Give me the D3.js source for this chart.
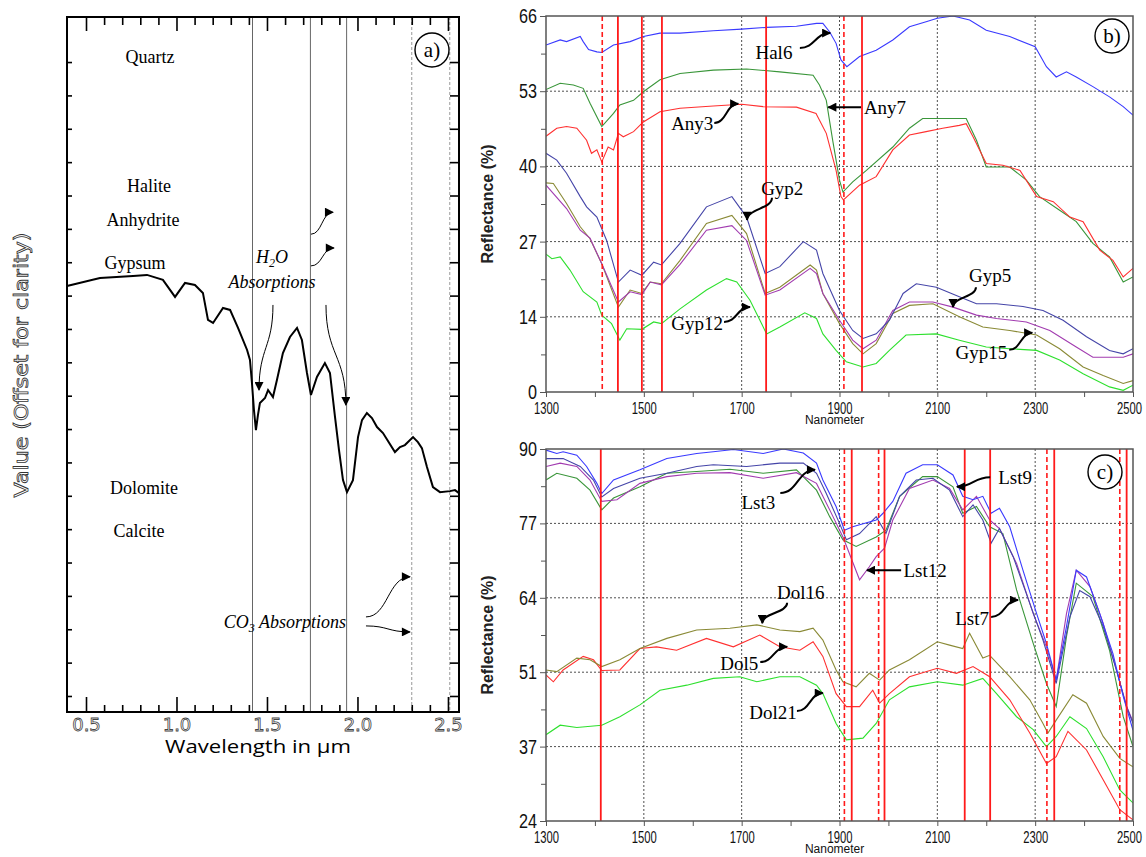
<!DOCTYPE html>
<html>
<head>
<meta charset="utf-8">
<script src="https://cdn.jsdelivr.net/npm/d3@7"></script>
<style>
body { margin: 0; background: #fff; }
svg { display: block; }
</style>
</head>
<body>
<svg id="chart" width="1146" height="857"></svg>
<script>
// ---------- panel a : reference spectrum (wavelength um, offset value)
const spectrumA = [[0.395,12.29],[0.577,12.53],[0.760,12.59],[0.837,12.62],[0.925,12.47],[0.992,11.96],[1.047,12.38],[1.102,12.32],[1.146,12.08],[1.174,11.27],[1.202,11.18],[1.257,11.63],[1.296,11.57],[1.340,11.03],[1.390,10.37],[1.406,10.07],[1.417,9.38],[1.428,8.57],[1.439,7.97],[1.450,8.42],[1.461,8.78],[1.489,8.93],[1.506,9.17],[1.533,8.96],[1.555,9.47],[1.588,10.28],[1.627,10.76],[1.666,11.03],[1.693,10.67],[1.721,9.68],[1.743,9.02],[1.776,9.56],[1.820,9.98],[1.848,9.68],[1.876,8.36],[1.898,7.37],[1.920,6.47],[1.942,6.11],[1.975,6.47],[2.003,7.76],[2.025,8.27],[2.052,8.48],[2.080,8.33],[2.108,8.06],[2.141,7.88],[2.207,7.31],[2.235,7.46],[2.262,7.52],[2.307,7.76],[2.334,7.61],[2.356,7.43],[2.384,6.86],[2.417,6.26],[2.456,6.11],[2.511,6.14],[2.539,6.17],[2.561,6.08]];
const aMajorTicks = [0.5, 1.0, 1.5, 2.0, 2.5];
const aMinorTicks = [0.6,0.7,0.8,0.9,1.1,1.2,1.3,1.4,1.6,1.7,1.8,1.9,2.1,2.2,2.3,2.4];
const aSideTicks = d3.range(0, 20);
const aLinesSolid = [1.42, 1.74, 1.94];
const aLinesDashed = [2.30, 2.51];
const aMinerals = [["Quartz",0.854,19.15],["Halite",0.848,15.28],["Anhydrite",0.815,14.26],["Gypsum",0.771,12.98],["Dolomite",0.820,6.23],["Calcite",0.793,4.94]];
const aArrows = [
  {from:[1.533,11.72], to:[1.456,9.17], dir:"v"},
  {from:[1.826,11.72], to:[1.936,8.72], dir:"v"},
  {from:[1.743,13.84], to:[1.865,14.50], dir:"h"},
  {from:[1.743,12.89], to:[1.870,13.43], dir:"h"},
  {from:[2.047,2.37], to:[2.290,3.57], dir:"h"},
  {from:[2.047,2.10], to:[2.290,1.92], dir:"h"}
];

// ---------- panel b : evaporites (nm, reflectance %)
const hal6 = [[1300,60.9],[1329,61.8],[1342,61.5],[1370,62.4],[1376,61.5],[1387,60.1],[1404,59.7],[1414,59.6],[1438,60.9],[1472,61.5],[1499,62.4],[1533,63.0],[1574,63.0],[1642,63.4],[1700,63.7],[1751,64.0],[1812,64.2],[1853,64.7],[1866,64.7],[1880,63.2],[1893,61.2],[1903,58.3],[1915,57.1],[1941,58.9],[1975,60.0],[2009,61.8],[2043,64.1],[2077,65.0],[2100,65.6],[2132,66.0],[2166,65.3],[2200,63.5],[2248,62.4],[2300,60.6],[2323,57.1],[2343,55.3],[2364,56.2],[2384,55.3],[2418,53.6],[2452,51.8],[2480,50.1],[2500,48.6]];
const any7 = [[1300,53.1],[1329,54.2],[1356,53.9],[1376,53.3],[1390,50.7],[1414,46.6],[1438,48.9],[1451,50.4],[1479,51.2],[1499,52.7],[1533,54.8],[1574,55.9],[1642,56.5],[1710,56.7],[1778,56.2],[1846,55.6],[1859,53.9],[1873,51.2],[1886,44.2],[1900,37.2],[1907,35.1],[1927,36.9],[1955,38.9],[2009,43.0],[2043,46.3],[2070,48.0],[2100,48.0],[2159,48.0],[2180,44.2],[2200,39.5],[2248,39.5],[2282,37.2],[2309,34.3],[2350,31.9],[2384,29.9],[2418,26.1],[2452,23.7],[2480,19.3],[2500,20.2]];
const any3 = [[1300,44.9],[1322,46.3],[1342,46.6],[1363,46.3],[1383,44.2],[1393,41.9],[1404,42.5],[1414,40.4],[1427,43.0],[1438,42.5],[1448,45.4],[1458,44.8],[1479,45.7],[1499,47.4],[1533,49.2],[1574,49.8],[1642,50.2],[1700,50.5],[1744,50.1],[1812,50.0],[1852,48.9],[1873,45.4],[1893,38.9],[1903,34.3],[1908,33.7],[1941,36.3],[1975,37.8],[2009,42.5],[2043,45.1],[2077,45.7],[2111,46.3],[2145,46.8],[2159,47.1],[2173,44.8],[2200,40.1],[2234,39.8],[2269,38.9],[2303,34.3],[2337,33.4],[2371,30.7],[2398,29.9],[2432,24.9],[2459,23.1],[2480,20.2],[2500,21.7]];
const gyp2 = [[1300,41.9],[1322,40.7],[1342,38.4],[1370,34.3],[1383,32.5],[1404,30.7],[1424,26.6],[1448,19.3],[1472,21.4],[1496,20.5],[1520,22.8],[1536,22.3],[1574,26.1],[1628,32.5],[1680,34.3],[1710,30.7],[1748,20.8],[1778,22.0],[1826,26.4],[1853,24.9],[1866,20.8],[1900,14.3],[1927,10.8],[1948,9.4],[1975,10.2],[2002,12.6],[2030,17.3],[2057,19.0],[2098,18.4],[2145,16.7],[2180,15.5],[2221,15.5],[2275,15.0],[2316,14.3],[2357,12.6],[2405,9.7],[2452,7.3],[2480,6.7],[2500,7.6]];
const gyp15 = [[1300,36.7],[1315,36.6],[1342,33.1],[1370,29.0],[1390,26.9],[1414,22.5],[1448,14.9],[1472,17.9],[1496,17.3],[1513,19.3],[1536,19.0],[1574,23.1],[1628,29.6],[1680,31.0],[1710,27.8],[1748,17.3],[1778,18.4],[1840,22.3],[1853,21.4],[1866,17.3],[1900,12.0],[1927,8.5],[1948,6.7],[1975,8.5],[2009,13.8],[2043,15.2],[2091,15.5],[2145,13.2],[2193,11.4],[2248,10.8],[2303,10.0],[2350,7.6],[2398,4.4],[2439,2.9],[2480,1.5],[2500,2.0]];
const gyp5 = [[1300,36.3],[1342,32.2],[1370,28.4],[1390,27.0],[1414,22.5],[1448,15.8],[1472,17.6],[1496,17.1],[1513,19.3],[1536,18.8],[1574,22.4],[1628,28.4],[1680,29.2],[1710,26.6],[1748,17.0],[1778,17.9],[1840,21.7],[1853,20.8],[1866,17.3],[1900,12.6],[1927,9.1],[1948,7.6],[1975,9.1],[2009,14.3],[2043,15.8],[2091,15.8],[2132,14.9],[2180,13.5],[2221,12.9],[2282,12.3],[2330,10.8],[2384,7.9],[2418,6.1],[2480,6.1],[2500,6.7]];
const gyp12 = [[1300,24.2],[1312,23.4],[1329,23.7],[1349,21.4],[1376,17.6],[1404,15.8],[1414,13.5],[1434,12.0],[1451,9.1],[1465,11.1],[1496,11.0],[1520,12.3],[1536,12.0],[1574,14.6],[1628,17.9],[1669,19.9],[1690,19.3],[1717,16.1],[1751,10.2],[1778,11.4],[1829,13.9],[1853,12.9],[1866,10.2],[1893,7.3],[1914,5.3],[1948,4.4],[1975,5.0],[2002,7.3],[2036,10.0],[2098,10.2],[2145,9.1],[2200,7.9],[2248,7.6],[2303,7.3],[2350,5.6],[2398,3.2],[2452,0.9],[2480,0.3],[2500,1.2]];
const bYTickLabels = ["0","14","27","40","53","66"];
const bRedSolid = [1447, 1496, 1537, 1750, 1946];
const bRedDashed = [1415, 1909];
const bNotes = [
  {text:"Hal6", at:[1766,59.7], from:[1819,60.4], to:[1881,63.0], dir:"h"},
  {text:"Any7", at:[1993,50.0], from:[1944,50.0], to:[1877,50.0], dir:"s"},
  {text:"Any3", at:[1599,47.2], from:[1644,47.2], to:[1693,50.6], dir:"h"},
  {text:"Gyp2", at:[1783,35.8], from:[1762,34.1], to:[1711,30.2], dir:"v"},
  {text:"Gyp12", at:[1609,12.1], from:[1664,12.3], to:[1717,14.9], dir:"h"},
  {text:"Gyp5", at:[2208,20.5], from:[2179,18.4], to:[2132,14.9], dir:"v"},
  {text:"Gyp15", at:[2190,7.0], from:[2247,7.4], to:[2294,10.4], dir:"h"}
];

// ---------- panel c : carbonates
const lst9 = [[1300,89.8],[1322,89.2],[1335,89.5],[1363,88.9],[1383,86.9],[1404,83.9],[1414,82.1],[1438,84.5],[1492,86.3],[1547,88.3],[1608,89.2],[1642,89.5],[1683,89.9],[1744,89.2],[1785,90.0],[1826,89.3],[1853,87.5],[1866,84.5],[1893,79.8],[1910,75.6],[1927,76.2],[1975,77.4],[1989,78.6],[2009,80.7],[2036,85.7],[2070,87.2],[2100,87.2],[2132,85.4],[2152,81.6],[2173,81.0],[2193,81.6],[2210,78.6],[2227,79.5],[2248,76.2],[2275,68.5],[2303,60.8],[2323,55.5],[2343,49.0],[2364,58.5],[2384,68.5],[2405,67.3],[2432,60.8],[2459,53.7],[2480,46.1],[2500,40.1]];
const lst3 = [[1300,88.3],[1335,88.3],[1370,86.9],[1397,84.5],[1414,81.5],[1438,83.0],[1492,84.8],[1547,85.7],[1608,86.9],[1642,87.2],[1710,86.9],[1778,87.5],[1826,87.5],[1853,85.7],[1873,82.1],[1900,76.8],[1914,73.9],[1941,75.0],[1975,78.0],[1995,75.0],[2023,81.6],[2057,84.5],[2091,84.8],[2125,82.7],[2152,78.0],[2173,80.1],[2193,77.4],[2210,73.3],[2227,75.9],[2255,70.9],[2289,62.6],[2316,56.1],[2343,48.4],[2371,60.2],[2391,64.9],[2412,63.8],[2439,58.5],[2466,50.8],[2487,44.3],[2500,41.3]];
const lst12 = [[1300,86.9],[1329,87.5],[1363,86.9],[1390,84.5],[1414,80.7],[1445,81.0],[1492,83.9],[1547,85.1],[1608,85.7],[1676,85.8],[1744,84.8],[1812,85.8],[1853,83.9],[1880,79.2],[1907,74.4],[1920,71.5],[1941,66.8],[1961,69.1],[1975,70.9],[1992,72.4],[2009,77.4],[2043,83.0],[2091,84.5],[2125,83.0],[2152,79.2],[2180,81.6],[2207,77.4],[2227,75.9],[2262,69.7],[2296,60.8],[2323,54.9],[2343,49.0],[2364,60.8],[2384,68.5],[2412,65.6],[2439,59.1],[2466,50.8],[2487,44.3],[2500,41.6]];
const lst7 = [[1300,84.5],[1322,85.7],[1363,84.8],[1390,82.7],[1414,79.2],[1438,81.3],[1492,83.3],[1547,85.7],[1608,86.0],[1676,86.4],[1744,85.7],[1812,86.3],[1853,82.7],[1880,78.0],[1907,73.9],[1934,72.7],[1975,74.4],[1995,75.6],[2023,81.6],[2070,85.1],[2100,85.1],[2132,83.3],[2152,78.6],[2180,79.8],[2207,76.2],[2234,75.0],[2262,65.0],[2296,55.5],[2323,48.4],[2343,44.3],[2364,56.7],[2384,66.2],[2418,63.8],[2452,54.3],[2480,42.5],[2500,37.2]];
const dol16 = [[1300,50.8],[1322,50.5],[1363,52.9],[1390,52.6],[1414,51.4],[1451,52.6],[1492,54.6],[1547,56.4],[1608,57.9],[1676,58.2],[1731,58.8],[1778,57.9],[1819,57.6],[1846,58.2],[1866,56.1],[1893,50.8],[1907,48.7],[1934,47.8],[1961,50.2],[1982,49.0],[2002,50.8],[2043,52.6],[2100,55.8],[2125,55.2],[2152,54.6],[2166,57.3],[2193,52.9],[2207,53.4],[2248,49.6],[2289,45.5],[2316,41.3],[2326,39.6],[2343,41.9],[2377,46.4],[2405,44.9],[2439,39.0],[2473,35.1],[2500,33.6]];
const dol5 = [[1300,49.9],[1315,48.7],[1335,50.8],[1376,53.2],[1397,52.6],[1414,50.7],[1451,50.8],[1492,54.6],[1526,54.9],[1567,54.3],[1628,56.4],[1683,54.9],[1737,57.0],[1778,54.9],[1819,54.3],[1846,55.8],[1866,53.2],[1893,46.6],[1914,44.3],[1941,44.3],[1968,47.2],[1982,44.9],[2002,46.6],[2043,49.6],[2100,51.1],[2139,50.2],[2173,51.4],[2207,49.6],[2248,45.5],[2289,39.6],[2323,34.2],[2343,35.4],[2367,39.9],[2405,36.6],[2439,31.3],[2473,26.0],[2500,24.2]];
const dol21 = [[1300,39.3],[1329,41.0],[1363,40.6],[1414,41.0],[1451,42.5],[1492,44.6],[1533,47.2],[1588,48.1],[1642,49.3],[1696,49.6],[1731,48.7],[1778,49.6],[1819,49.6],[1853,48.1],[1866,46.6],[1893,41.3],[1914,38.4],[1948,38.7],[1975,41.3],[2002,45.5],[2043,47.8],[2100,48.7],[2152,48.1],[2193,49.3],[2221,46.6],[2262,42.5],[2296,40.2],[2323,37.2],[2343,39.0],[2371,42.5],[2405,40.4],[2439,35.4],[2473,29.5],[2500,27.2]];
const cYTickLabels = ["24","37","51","64","77","90"];
const cRedSolid = [1412, 1925, 1992, 2156, 2208, 2339, 2487];
const cRedDashed = [1910, 1980, 2324, 2473];
const cNotes = [
  {text:"Lst3", at:[1734,80.6], from:[1779,82.2], to:[1850,86.3], dir:"h"},
  {text:"Lst9", at:[2259,85.0], from:[2208,85.0], to:[2140,83.3], dir:"h"},
  {text:"Lst12", at:[2075,68.5], from:[2026,68.5], to:[1956,68.5], dir:"s"},
  {text:"Lst7", at:[2171,60.0], from:[2210,60.2], to:[2265,63.2], dir:"h"},
  {text:"Dol16", at:[1821,64.5], from:[1793,62.7], to:[1742,59.1], dir:"v"},
  {text:"Dol5", at:[1695,52.0], from:[1738,52.2], to:[1793,54.9], dir:"h"},
  {text:"Dol21", at:[1764,43.3], from:[1813,43.5], to:[1866,46.7], dir:"h"}
];

const nmTicks = [1300, 1500, 1700, 1900, 2100, 2300, 2500];
const nmMinor = [1400, 1600, 1800, 2000, 2200, 2400];
const nmGrid = [1500, 1700, 1900, 2100, 2300];

const svg = d3.select("#chart");
svg.append("rect").attr("width", 1146).attr("height", 857).attr("fill", "#fff");
const defs = svg.append("defs");
defs.append("marker").attr("id", "ah").attr("viewBox", "0 0 10 10")
  .attr("refX", 9).attr("refY", 5).attr("markerWidth", 11).attr("markerHeight", 9)
  .attr("markerUnits", "userSpaceOnUse").attr("orient", "auto")
  .append("path").attr("d", "M0,0L10,5L0,10z").attr("fill", "#000");

const serif = "'Liberation Serif', 'Times New Roman', serif";
const narrow = "'Liberation Sans Narrow', 'Liberation Sans', Arial, sans-serif";

function arrowPath(x, y, a) {
  const x0 = x(a.from[0]), y0 = y(a.from[1]), x1 = x(a.to[0]), y1 = y(a.to[1]);
  const p = d3.path();
  p.moveTo(x0, y0);
  if (a.dir === "h") {
    const mx = (x0 + x1) / 2;
    p.bezierCurveTo(mx, y0, mx, y1, x1, y1);
  } else if (a.dir === "v") {
    const my = (y0 + y1) / 2;
    p.bezierCurveTo(x0, my, x1, my, x1, y1);
  } else {
    p.lineTo(x1, y1);
  }
  return p.toString();
}

// ================= panel a =================
(function () {
  const left = 67, right = 459, top = 17, bottom = 712;
  const x = d3.scaleLinear().domain([0.395, 2.561]).range([left, right]);
  const y = d3.scaleLinear().domain([-0.48, 20.35]).range([bottom, top]);
  const g = svg.append("g");

  g.selectAll(".vsolid").data(aLinesSolid).join("line").attr("class", "vsolid")
    .attr("x1", d => x(d)).attr("x2", d => x(d)).attr("y1", top).attr("y2", bottom)
    .attr("stroke", "#555").attr("stroke-width", 0.9);
  g.selectAll(".vdash").data(aLinesDashed).join("line").attr("class", "vdash")
    .attr("x1", d => x(d)).attr("x2", d => x(d)).attr("y1", top).attr("y2", bottom)
    .attr("stroke", "#999").attr("stroke-width", 1).attr("stroke-dasharray", "3,2");

  g.append("path").datum(spectrumA)
    .attr("d", d3.line().x(d => x(d[0])).y(d => y(d[1])))
    .attr("fill", "none").attr("stroke", "#000").attr("stroke-width", 2);

  const style = sel => {
    sel.select(".domain").remove();
    sel.selectAll(".tick line").attr("stroke", "#000").attr("stroke-width", 1.6);
  };
  g.append("g").attr("transform", `translate(0,${bottom})`)
    .call(d3.axisBottom(x).tickValues(aMajorTicks).tickSize(-15).tickPadding(6).tickFormat(d3.format(".1f")))
    .call(style)
    .selectAll("text").attr("font-family", "'DejaVu Sans', sans-serif").attr("font-size", 18)
    .attr("fill", "#fff").attr("stroke", "#444").attr("stroke-width", 0.8);
  g.append("g").attr("transform", `translate(0,${bottom})`)
    .call(d3.axisBottom(x).tickValues(aMinorTicks).tickSize(-7).tickFormat(""))
    .call(style);
  g.append("g").attr("transform", `translate(0,${top})`)
    .call(d3.axisTop(x).tickValues(aMajorTicks).tickSize(-14).tickFormat("")).call(style);
  g.append("g").attr("transform", `translate(0,${top})`)
    .call(d3.axisTop(x).tickValues(aMinorTicks).tickSize(-8).tickFormat("")).call(style);
  g.append("g").attr("transform", `translate(${left},0)`)
    .call(d3.axisLeft(y).tickValues(aSideTicks).tickSize(-5).tickFormat("")).call(style);
  g.append("g").attr("transform", `translate(${right},0)`)
    .call(d3.axisRight(y).tickValues(aSideTicks).tickSize(-9).tickFormat("")).call(style);

  g.append("rect").attr("x", left).attr("y", top).attr("width", right - left).attr("height", bottom - top)
    .attr("fill", "none").attr("stroke", "#000").attr("stroke-width", 2);

  g.selectAll(".mineral").data(aMinerals).join("text").attr("class", "mineral")
    .attr("x", d => x(d[1])).attr("y", d => y(d[2])).attr("dy", "0.35em")
    .attr("text-anchor", "middle").attr("font-family", serif).attr("font-size", 18)
    .text(d => d[0]);

  const h2o = g.append("text").attr("x", x(1.528)).attr("y", y(13.16)).attr("dy", "0.35em")
    .attr("text-anchor", "middle").attr("font-family", serif).attr("font-size", 18).attr("font-style", "italic");
  h2o.append("tspan").text("H");
  h2o.append("tspan").attr("font-size", 12).attr("dy", 4).text("2");
  h2o.append("tspan").attr("dy", -4).text("O");
  g.append("text").attr("x", x(1.528)).attr("y", y(12.41)).attr("dy", "0.35em")
    .attr("text-anchor", "middle").attr("font-family", serif).attr("font-size", 18).attr("font-style", "italic")
    .text("Absorptions");
  const co3 = g.append("text").attr("x", x(1.599)).attr("y", y(2.22)).attr("dy", "0.35em")
    .attr("text-anchor", "middle").attr("font-family", serif).attr("font-size", 18).attr("font-style", "italic");
  co3.append("tspan").text("CO");
  co3.append("tspan").attr("font-size", 12).attr("dy", 4).text("3");
  co3.append("tspan").attr("dy", -4).text(" Absorptions");

  g.selectAll(".arr").data(aArrows).join("path").attr("class", "arr")
    .attr("d", d => arrowPath(x, y, d)).attr("fill", "none").attr("stroke", "#000")
    .attr("stroke-width", 1).attr("marker-end", "url(#ah)");

  g.append("circle").attr("cx", 432).attr("cy", 50).attr("r", 17).attr("fill", "#fff")
    .attr("stroke", "#000").attr("stroke-width", 1.4);
  g.append("text").attr("x", 432).attr("y", 50).attr("dy", "0.35em").attr("text-anchor", "middle")
    .attr("font-family", serif).attr("font-size", 21).text("a)");

  svg.append("text").attr("transform", "translate(28,365) rotate(-90)")
    .attr("text-anchor", "middle").attr("font-family", "'DejaVu Sans', sans-serif").attr("font-size", 19)
    .attr("textLength", 265).attr("lengthAdjust", "spacingAndGlyphs")
    .attr("fill", "#fff").attr("stroke", "#333").attr("stroke-width", 0.8)
    .text("Value (Offset for clarity)");
  svg.append("text").attr("x", 258).attr("y", 753).attr("text-anchor", "middle")
    .attr("font-family", "'Open Sans', sans-serif").attr("font-size", 19)
    .attr("textLength", 186).attr("lengthAdjust", "spacingAndGlyphs")
    .text("Wavelength in µm");
})();

// ================= panels b and c =================
function reflectPanel(o) {
  const left = 546, right = 1133;
  const x = d3.scaleLinear().domain([1300, 2500]).range([left, right]);
  const y = d3.scaleLinear().domain(o.yDomain).range([o.bottom, o.top]);
  const step = (o.yDomain[1] - o.yDomain[0]) / 5;
  const yTicks = d3.range(6).map(i => o.yDomain[0] + i * step);
  const yMinor = d3.range(5).map(i => o.yDomain[0] + (i + 0.5) * step);
  const g = svg.append("g");

  defs.append("clipPath").attr("id", "clip" + o.name).append("rect")
    .attr("x", left).attr("y", o.top).attr("width", right - left).attr("height", o.bottom - o.top);

  g.selectAll(".gx").data(nmGrid).join("line").attr("class", "gx")
    .attr("x1", d => x(d)).attr("x2", d => x(d)).attr("y1", o.top).attr("y2", o.bottom)
    .attr("stroke", "#222").attr("stroke-width", 0.8).attr("stroke-dasharray", "2,2");
  g.selectAll(".gy").data(yTicks.slice(1, 5)).join("line").attr("class", "gy")
    .attr("x1", left).attr("x2", right).attr("y1", d => y(d)).attr("y2", d => y(d))
    .attr("stroke", "#222").attr("stroke-width", 0.8).attr("stroke-dasharray", "2,2");

  const lines = g.append("g").attr("clip-path", `url(#clip${o.name})`);
  const line = d3.line().x(d => x(d[0])).y(d => y(d[1]));
  o.series.forEach(s => {
    lines.append("path").datum(s.data).attr("d", line)
      .attr("fill", "none").attr("stroke", s.color).attr("stroke-width", 1.1);
  });

  g.selectAll(".rs").data(o.redSolid).join("line").attr("class", "rs")
    .attr("x1", d => x(d)).attr("x2", d => x(d)).attr("y1", o.top).attr("y2", o.bottom)
    .attr("stroke", "#ff1a1a").attr("stroke-width", 1.8);
  g.selectAll(".rd").data(o.redDashed).join("line").attr("class", "rd")
    .attr("x1", d => x(d)).attr("x2", d => x(d)).attr("y1", o.top).attr("y2", o.bottom)
    .attr("stroke", "#ff1a1a").attr("stroke-width", 1.6).attr("stroke-dasharray", "5,3");

  const style = sel => {
    sel.select(".domain").remove();
    sel.selectAll(".tick line").attr("stroke", "#555");
    sel.selectAll("text").attr("font-family", narrow).attr("fill", "#111");
  };
  g.append("g").attr("transform", `translate(${left},0)`)
    .call(d3.axisLeft(y).tickValues(yTicks).tickSize(6).tickPadding(3).tickFormat((d, i) => o.yLabels[i]))
    .call(style).selectAll("text").attr("font-size", 20)
    .attr("textLength", (d, i) => o.yLabels[i].length * 9).attr("lengthAdjust", "spacingAndGlyphs");
  g.append("g").attr("transform", `translate(${left},0)`)
    .call(d3.axisLeft(y).tickValues(yMinor).tickSize(5).tickFormat("")).call(style);
  g.append("g").attr("transform", `translate(0,${o.bottom})`)
    .call(d3.axisBottom(x).tickValues(nmTicks).tickSize(5).tickPadding(5).tickFormat(d3.format("d")))
    .call(style).selectAll("text").attr("font-size", 17)
    .attr("textLength", 25).attr("lengthAdjust", "spacingAndGlyphs")
    .attr("dx", d => d === 2500 ? -4 : 0);
  g.append("g").attr("transform", `translate(0,${o.bottom})`)
    .call(d3.axisBottom(x).tickValues(nmMinor).tickSize(5).tickFormat("")).call(style);

  g.append("rect").attr("x", left).attr("y", o.top).attr("width", right - left).attr("height", o.bottom - o.top)
    .attr("fill", "none").attr("stroke", "#555").attr("stroke-width", 1.5);

  g.append("text").attr("transform", `translate(493,${(o.top + o.bottom) / 2}) rotate(-90)`)
    .attr("text-anchor", "middle").attr("font-family", "'Liberation Sans', Arial, sans-serif")
    .attr("font-size", 16).attr("font-weight", "bold").attr("fill", "#222").text("Reflectance (%)");
  g.append("text").attr("x", x(1890)).attr("y", o.bottom + 32).attr("text-anchor", "middle")
    .attr("font-family", narrow).attr("font-size", 12).attr("fill", "#111").text("Nanometer");

  g.selectAll(".note").data(o.notes).join("text").attr("class", "note")
    .attr("x", d => x(d.at[0])).attr("y", d => y(d.at[1])).attr("dy", "0.35em")
    .attr("text-anchor", "middle").attr("font-family", serif).attr("font-size", 19)
    .text(d => d.text);
  g.selectAll(".narr").data(o.notes).join("path").attr("class", "narr")
    .attr("d", d => arrowPath(x, y, d)).attr("fill", "none").attr("stroke", "#000")
    .attr("stroke-width", 2).attr("marker-end", "url(#ah)");

  g.append("circle").attr("cx", o.badge[0]).attr("cy", o.badge[1]).attr("r", 17)
    .attr("fill", "#fff").attr("stroke", "#000").attr("stroke-width", 1.4);
  g.append("text").attr("x", o.badge[0]).attr("y", o.badge[1]).attr("dy", "0.35em")
    .attr("text-anchor", "middle").attr("font-family", serif).attr("font-size", 21).text(o.badgeText);
}

reflectPanel({
  name: "b", top: 16, bottom: 392, yDomain: [0, 66], yLabels: bYTickLabels,
  redSolid: bRedSolid, redDashed: bRedDashed, notes: bNotes,
  badge: [1112, 36], badgeText: "b)",
  series: [
    {data: hal6, color: "#3a3aff"},
    {data: any7, color: "#3a963a"},
    {data: any3, color: "#ff3030"},
    {data: gyp12, color: "#2ee02e"},
    {data: gyp15, color: "#8a8a36"},
    {data: gyp5, color: "#a23cb0"},
    {data: gyp2, color: "#4545a8"}
  ]
});

reflectPanel({
  name: "c", top: 449, bottom: 821, yDomain: [24, 90], yLabels: cYTickLabels,
  redSolid: cRedSolid, redDashed: cRedDashed, notes: cNotes,
  badge: [1105, 472], badgeText: "c)",
  series: [
    {data: dol21, color: "#2ee02e"},
    {data: dol5, color: "#ff3030"},
    {data: dol16, color: "#8a8a36"},
    {data: lst7, color: "#3a963a"},
    {data: lst12, color: "#a23cb0"},
    {data: lst3, color: "#4545a8"},
    {data: lst9, color: "#3a3aff"}
  ]
});
</script>
</body>
</html>
